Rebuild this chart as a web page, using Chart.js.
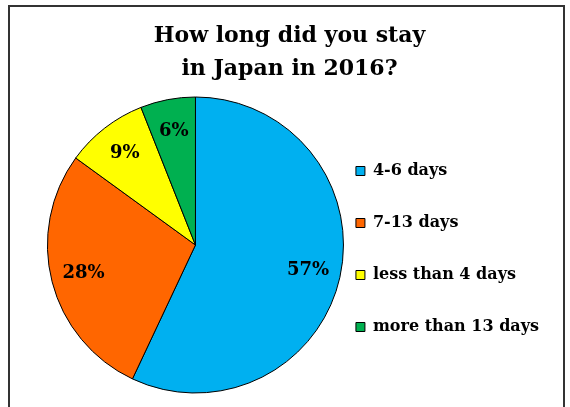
<!DOCTYPE html>
<html>
<head>
<meta charset="utf-8">
<script src="https://cdn.jsdelivr.net/npm/chart.js@4/dist/chart.umd.min.js"></script>
<style>
  body { margin: 0; background: #fff; }
  #frame {
    position: absolute; left: 8px; top: 5px; width: 553px; height: 500px;
    border: 2px solid #333; border-bottom: none;
  }
  #wrap { position: absolute; left: 0; top: 0; width: 553px; height: 400px; }
  #title {
    position: absolute; left: 3px; top: 11px; width: 553px; margin: 0;
    text-align: center; font: bold 22px/33px 'DejaVu Serif', serif; color: #000;
  }
</style>
</head>
<body>
<div id="frame">
  <div id="wrap"><canvas id="myChart"></canvas></div>
  <h1 id="title"></h1>
</div>
<script>
const categories = ['4-6 days', '7-13 days', 'less than 4 days', 'more than 13 days'];
const shares = [57, 28, 9, 6];
const sliceColors = ['#00B0F0', '#FF6600', '#FFFF00', '#00B050'];
const titleLines = ['How long did you stay', 'in Japan in 2016?'];

const serif = "'DejaVu Serif', serif";

// title sits over the whole frame, not just the pie's area
const titleEl = document.getElementById('title');
titleLines.forEach((line, i) => {
  if (i) titleEl.appendChild(document.createElement('br'));
  titleEl.appendChild(document.createTextNode(line));
});

// percent labels inside the slices
const sliceLabels = {
  id: 'sliceLabels',
  afterDatasetsDraw(chart) {
    const {ctx} = chart;
    const meta = chart.getDatasetMeta(0);
    ctx.save();
    ctx.font = "bold 18px " + serif;
    ctx.fillStyle = '#000';
    ctx.textAlign = 'center';
    ctx.textBaseline = 'middle';
    meta.data.forEach((arc, i) => {
      const {x, y, startAngle, endAngle, outerRadius} = arc.getProps(['x', 'y', 'startAngle', 'endAngle', 'outerRadius'], true);
      const mid = (startAngle + endAngle) / 2;
      const r = outerRadius * 0.78;
      ctx.fillText(shares[i] + '%', x + Math.cos(mid) * r, y + Math.sin(mid) * r);
    });
    ctx.restore();
  }
};

const data = {
  labels: categories,
  datasets: [{
    data: shares,
    backgroundColor: sliceColors,
    borderColor: '#000',
    borderWidth: 1,
    radius: 148,
    clip: false
  }]
};

const config = {
  type: 'pie',
  data,
  options: {
    responsive: true,
    maintainAspectRatio: false,
    animation: false,
    layout: {
      padding: { left: 61, right: 14, top: 91, bottom: 15 }
    },
    plugins: {
      legend: {
        position: 'right',
        align: 'start',
        title: {
          display: true,
          text: '',
          font: { size: 10, lineHeight: 1 },
          padding: { top: 19, bottom: 0 }
        },
        labels: {
          color: '#000',
          boxWidth: 9,
          boxHeight: 9,
          padding: 36,
          font: { family: serif, size: 16, weight: 'bold' }
        }
      },
      tooltip: { enabled: false }
    }
  },
  plugins: [sliceLabels]
};

const myChart = new Chart(document.getElementById('myChart'), config);
</script>
</body>
</html>
